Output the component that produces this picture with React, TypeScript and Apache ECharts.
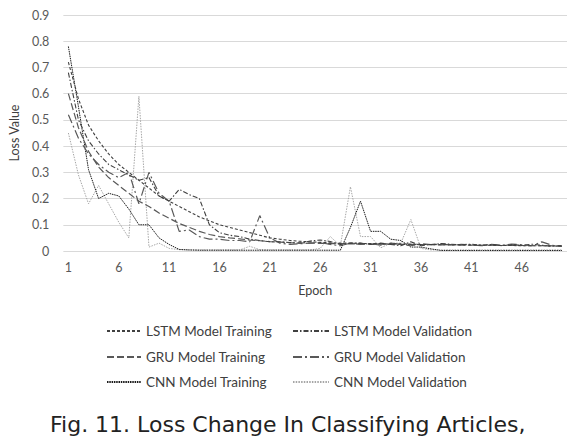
import React, { useEffect, useRef } from "react";
import * as echarts from "echarts";

const epochs = [
  "1","2","3","4","5","6","7","8","9","10",
  "11","12","13","14","15","16","17","18","19","20",
  "21","22","23","24","25","26","27","28","29","30",
  "31","32","33","34","35","36","37","38","39","40",
  "41","42","43","44","45","46","47","48","49","50",
];

const seriesNames = [
  "LSTM Model Training",
  "LSTM Model Validation",
  "GRU Model Training",
  "GRU Model Validation",
  "CNN Model Training",
  "CNN Model Validation",
];

const lstmTraining = [
  0.72, 0.58, 0.48, 0.42, 0.37, 0.33, 0.30, 0.27, 0.24, 0.21,
  0.19, 0.17, 0.15, 0.13, 0.115, 0.10, 0.09, 0.08, 0.07, 0.06,
  0.05, 0.045, 0.04, 0.037, 0.035, 0.033, 0.031, 0.03, 0.03, 0.029,
  0.028, 0.028, 0.027, 0.027, 0.026, 0.025, 0.025, 0.024, 0.024, 0.023,
  0.023, 0.022, 0.022, 0.021, 0.021, 0.02, 0.02, 0.02, 0.019, 0.019,
];

const lstmValidation = [
  0.68, 0.50, 0.42, 0.37, 0.33, 0.31, 0.29, 0.27, 0.28, 0.21,
  0.19, 0.235, 0.215, 0.20, 0.10, 0.07, 0.06, 0.055, 0.045, 0.04,
  0.035, 0.035, 0.032, 0.03, 0.038, 0.042, 0.036, 0.025, 0.03, 0.03,
  0.025, 0.03, 0.025, 0.02, 0.035, 0.02, 0.025, 0.028, 0.026, 0.024,
  0.026, 0.022, 0.025, 0.02, 0.024, 0.022, 0.026, 0.022, 0.018, 0.02,
];

const gruTraining = [
  0.60, 0.47, 0.38, 0.32, 0.28, 0.25, 0.22, 0.19, 0.17, 0.145,
  0.125, 0.105, 0.09, 0.075, 0.063, 0.055, 0.05, 0.046, 0.042, 0.039,
  0.036, 0.034, 0.032, 0.031, 0.03, 0.029, 0.028, 0.028, 0.027, 0.027,
  0.026, 0.026, 0.025, 0.025, 0.025, 0.024, 0.024, 0.023, 0.023, 0.023,
  0.022, 0.022, 0.022, 0.021, 0.021, 0.021, 0.02, 0.02, 0.02, 0.02,
];

const gruValidation = [
  0.52, 0.43, 0.37, 0.33, 0.30, 0.28, 0.30, 0.18, 0.30, 0.22,
  0.19, 0.075, 0.08, 0.055, 0.045, 0.045, 0.04, 0.04, 0.035, 0.135,
  0.05, 0.03, 0.025, 0.028, 0.03, 0.032, 0.025, 0.02, 0.03, 0.025,
  0.028, 0.022, 0.03, 0.025, 0.02, 0.028, 0.024, 0.027, 0.022, 0.025,
  0.023, 0.02, 0.025, 0.022, 0.026, 0.024, 0.02, 0.035, 0.022, 0.018,
];

const cnnTraining = [
  0.78, 0.55, 0.31, 0.20, 0.22, 0.21, 0.16, 0.10, 0.10, 0.05,
  0.025, 0.006, 0.004, 0.003, 0.003, 0.003, 0.003, 0.003, 0.003, 0.003,
  0.003, 0.003, 0.003, 0.003, 0.003, 0.003, 0.003, 0.003, 0.09, 0.19,
  0.075, 0.075, 0.045, 0.04, 0.015, 0.015, 0.008, 0.002, 0.002, 0.002,
  0.002, 0.002, 0.002, 0.002, 0.002, 0.002, 0.002, 0.002, 0.002, 0.002,
];

const cnnValidation = [
  0.45, 0.29, 0.18, 0.25, 0.18, 0.11, 0.05, 0.59, 0.015, 0.03,
  0.01, 0.005, 0.004, 0.004, 0.004, 0.004, 0.004, 0.004, 0.018, 0.005,
  0.004, 0.004, 0.004, 0.004, 0.004, 0.01, 0.055, 0.02, 0.245, 0.055,
  0.055, 0.012, 0.03, 0.03, 0.12, 0.01, 0.004, 0.004, 0.004, 0.004,
  0.004, 0.004, 0.004, 0.004, 0.004, 0.004, 0.004, 0.004, 0.004, 0.004,
];

const seriesValues = [
  lstmTraining,
  lstmValidation,
  gruTraining,
  gruValidation,
  cnnTraining,
  cnnValidation,
];

const lineStyles = [
  { color: "#404040", type: [3, 2], width: 1.1 },
  { color: "#404040", type: [5, 2, 1.5, 2], width: 1.1 },
  { color: "#595959", type: [7, 3], width: 1.2 },
  { color: "#595959", type: [9, 3, 2, 3], width: 1.2 },
  { color: "#1a1a1a", type: [1.5, 0.8], width: 1 },
  { color: "#a6a6a6", type: [1.5, 1.2], width: 1 },
];

const legendPos = [
  { left: 106, top: 324, itemWidth: 34 },
  { left: 292, top: 324, itemWidth: 36 },
  { left: 106, top: 350, itemWidth: 34 },
  { left: 292, top: 350, itemWidth: 36 },
  { left: 106, top: 375, itemWidth: 34 },
  { left: 292, top: 375, itemWidth: 36 },
];

const caption = "Fig. 11. Loss Change In Classifying Articles,";

export default function App() {
  const ref = useRef<HTMLDivElement>(null);

  useEffect(() => {
    if (!ref.current) return;
    const chart = echarts.init(ref.current, undefined, { renderer: "svg" });
    const font = "Lato, 'Open Sans', sans-serif";
    chart.setOption({
      animation: false,
      textStyle: { fontFamily: font },
      grid: { left: 62, right: 20, top: 15, bottom: 193, containLabel: false },
      legend: seriesNames.map((n, i) => ({
        data: [n],
        left: legendPos[i].left,
        top: legendPos[i].top,
        itemWidth: legendPos[i].itemWidth,
        itemHeight: 14,
        padding: 0,
        itemStyle: { opacity: 0 },
        textStyle: { fontSize: 13.5, color: "#404040", fontFamily: font },
      })),
      xAxis: {
        type: "category",
        data: epochs,
        boundaryGap: true,
        axisTick: { show: false },
        axisLine: { show: false },
        axisLabel: { interval: 4, color: "#595959", fontSize: 12.5, margin: 10 },
        name: "Epoch",
        nameLocation: "middle",
        nameGap: 33,
        nameTextStyle: { color: "#404040", fontSize: 12.5 },
        splitLine: { show: false },
      },
      yAxis: {
        type: "value",
        min: 0,
        max: 0.9,
        interval: 0.1,
        axisLine: { show: false },
        axisTick: { show: false },
        axisLabel: {
          color: "#595959",
          fontSize: 12.5,
          margin: 14,
          formatter: (v: number) => (v === 0 ? "0" : v.toFixed(1)),
        },
        splitLine: { lineStyle: { color: "#d9d9d9", width: 1 } },
        name: "Loss Value",
        nameLocation: "middle",
        nameRotate: 90,
        nameGap: 35,
        nameTextStyle: { color: "#404040", fontSize: 12.5 },
      },
      series: seriesNames.map((n, i) => ({
        name: n,
        type: "line",
        data: seriesValues[i],
        symbol: "none",
        smooth: false,
        lineStyle: lineStyles[i],
        itemStyle: { color: lineStyles[i].color },
        z: 10 - i,
      })),
      graphic: [
        {
          type: "text",
          left: 50,
          top: 413,
          style: {
            text: caption,
            fontSize: 22,
            fontFamily: "'DejaVu Sans', sans-serif",
            fill: "#222222",
          },
        },
      ],
    });
    return () => chart.dispose();
  }, []);

  return (
    <div
      ref={ref}
      style={{ position: "absolute", left: 0, top: 0, width: 587, height: 444 }}
    />
  );
}
